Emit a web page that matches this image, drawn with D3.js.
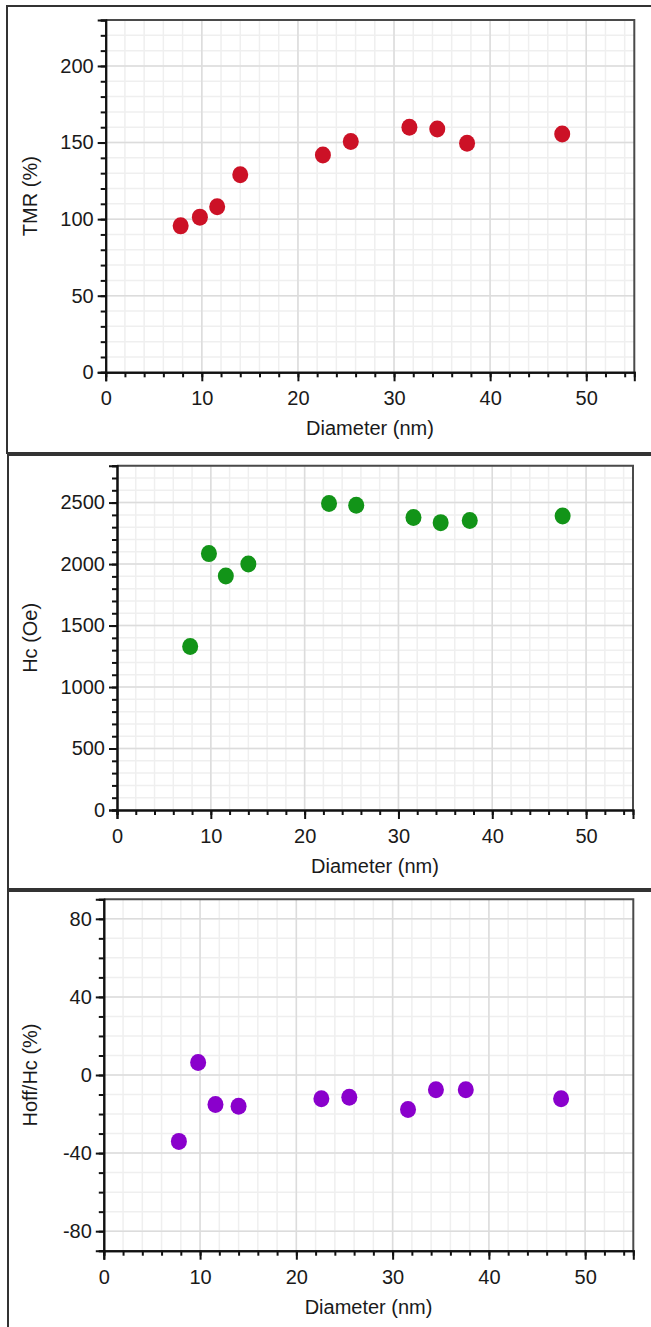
<!DOCTYPE html>
<html>
<head>
<meta charset="utf-8">
<script src="https://cdn.jsdelivr.net/npm/d3@7"></script>
<style>
  body { margin: 0; background: #fff; }
  text { font-family: "Liberation Sans", Arial, sans-serif; fill: #1a1a1a; }
</style>
</head>
<body>
<div id="chart"></div>
<script>
// data
var diameter = [7.8, 9.8, 11.6, 14.0, 22.6, 25.5, 31.6, 34.5, 37.6, 47.5];
var tmr = [95.6, 101.3, 108.1, 129.0, 141.8, 150.7, 160.0, 158.9, 149.6, 155.5];
var hc = [1330, 2085, 1903, 2001, 2492, 2478, 2378, 2337, 2354, 2391];
var hoffRatio = [-34.0, 6.4, -15.1, -16.0, -12.2, -11.4, -17.7, -7.6, -7.6, -12.2];

var xTicks = [0, 10, 20, 30, 40, 50];
var tmrTicks = [0, 50, 100, 150, 200];
var hcTicks = [0, 500, 1000, 1500, 2000, 2500];
var hoffTicks = [-80, -40, 0, 40, 80];

function init() {
    var w = 651, h = 1327;
    var svg = d3.select("#chart").append("svg")
        .attr("width", w).attr("height", h);

    // panel boxes
    var boxes = [[7, 6, 453], [8, 455, 889], [8, 891, 1340]];
    boxes.forEach(function(b) {
        svg.append("rect")
            .attr("x", b[0]).attr("y", b[1])
            .attr("width", 660).attr("height", b[2] - b[1])
            .attr("fill", "none").attr("stroke", "#333").attr("stroke-width", 2);
    });

    var panels = [
        { left: 105.7, right: 634.3, top: 20, bottom: 372.3, yDomain: [0, 230], yMinor: 10,
          yTicks: tmrTicks, values: tmr, color: "#cc1126", title: "TMR (%)" },
        { left: 117, right: 633, top: 465.7, bottom: 810, yDomain: [0, 2800], yMinor: 100,
          yTicks: hcTicks, values: hc, color: "#129418", title: "Hc (Oe)" },
        { left: 103.8, right: 633.3, top: 899.3, bottom: 1250.7, yDomain: [-90, 90], yMinor: 10,
          yTicks: hoffTicks, values: hoffRatio, color: "#8a00cc", title: "Hoff/Hc (%)" }
    ];

    var plain = function(d) { return String(d); };

    panels.forEach(function(p) {
        var x = d3.scaleLinear().domain([0, 55]).range([p.left, p.right]);
        var y = d3.scaleLinear().domain(p.yDomain).range([p.bottom, p.top]);
        var g = svg.append("g");

        var xMinor = d3.range(0, 55.01, 2);
        var yMinor = d3.range(Math.ceil(p.yDomain[0] / p.yMinor) * p.yMinor, p.yDomain[1] + 0.01, p.yMinor);

        // grid: minor first, major on top
        g.selectAll("line.xg").data(xMinor).enter().append("line")
            .attr("x1", d => x(d)).attr("x2", d => x(d))
            .attr("y1", p.top).attr("y2", p.bottom)
            .attr("stroke", "#efefef").attr("stroke-width", 1.5);
        g.selectAll("line.yg").data(yMinor).enter().append("line")
            .attr("x1", p.left).attr("x2", p.right)
            .attr("y1", d => y(d)).attr("y2", d => y(d))
            .attr("stroke", "#efefef").attr("stroke-width", 1.5);
        g.selectAll("line.xG").data(xTicks).enter().append("line")
            .attr("x1", d => x(d)).attr("x2", d => x(d))
            .attr("y1", p.top).attr("y2", p.bottom)
            .attr("stroke", "#dcdcdc").attr("stroke-width", 1.5);
        g.selectAll("line.yG").data(p.yTicks).enter().append("line")
            .attr("x1", p.left).attr("x2", p.right)
            .attr("y1", d => y(d)).attr("y2", d => y(d))
            .attr("stroke", "#dcdcdc").attr("stroke-width", 1.5);

        // frame top/right
        g.append("path")
            .attr("d", "M" + p.left + "," + p.top + "H" + p.right + "V" + p.bottom)
            .attr("fill", "none").attr("stroke", "#4a4a4a").attr("stroke-width", 2);

        // axes via d3 axis generators
        var xMinorAxis = d3.axisBottom(x).tickValues(xMinor).tickSize(5).tickFormat("");
        var xAxis = d3.axisBottom(x).tickValues(xTicks).tickSize(9).tickPadding(10).tickFormat(plain);
        var yMinorAxis = d3.axisLeft(y).tickValues(yMinor).tickSize(5).tickFormat("");
        var yAxis = d3.axisLeft(y).tickValues(p.yTicks).tickSize(8).tickPadding(4).tickFormat(plain);

        [xMinorAxis, xAxis].forEach(function(ax) {
            g.append("g").attr("transform", "translate(0," + p.bottom + ")").call(ax);
        });
        [yMinorAxis, yAxis].forEach(function(ax) {
            g.append("g").attr("transform", "translate(" + p.left + ",0)").call(ax);
        });
        g.selectAll(".domain").attr("stroke", "#111").attr("stroke-width", 2);
        g.selectAll(".tick line").attr("stroke", "#111").attr("stroke-width", 2);
        g.selectAll(".tick text").style("font-size", "20px").attr("fill", "#1a1a1a")
            .style("font-family", "'Liberation Sans', Arial, sans-serif");

        // dots
        g.selectAll("ellipse").data(p.values).enter().append("ellipse")
            .attr("cx", (d, i) => x(diameter[i]))
            .attr("cy", d => y(d))
            .attr("rx", 8).attr("ry", 8.5)
            .attr("fill", p.color);

        // titles
        g.append("text")
            .attr("x", (p.left + p.right) / 2).attr("y", p.bottom + 63)
            .attr("text-anchor", "middle").style("font-size", "20px")
            .text("Diameter (nm)");
        g.append("text")
            .attr("transform", "translate(37," + (p.top + p.bottom) / 2 + ") rotate(-90)")
            .attr("text-anchor", "middle").style("font-size", "20px")
            .text(p.title);
    });
}

window.onload = init;
</script>
</body>
</html>
